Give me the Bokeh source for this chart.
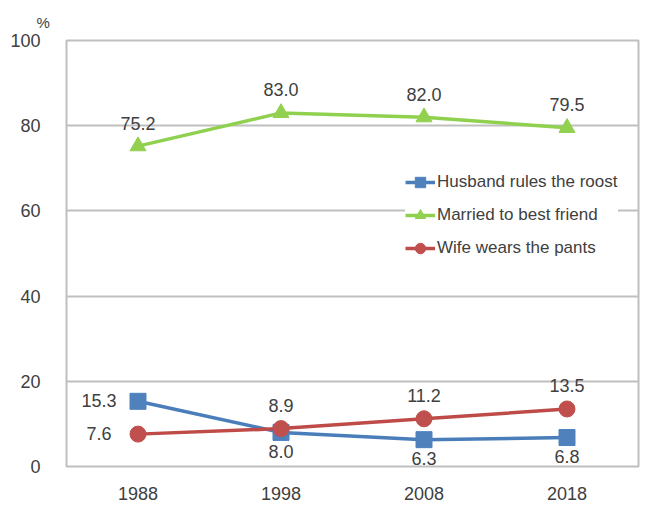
from bokeh.plotting import figure
from bokeh.models import (ColumnDataSource, Range1d, FactorRange, Legend, LegendItem,
                          FixedTicker)
from bokeh.embed import file_html
from bokeh.resources import INLINE
from bokeh.core.properties import value

years = ["1988", "1998", "2008", "2018"]
husband = [15.3, 8.0, 6.3, 6.8]
married = [75.2, 83.0, 82.0, 79.5]
wife = [7.6, 8.9, 11.2, 13.5]
names = ["Husband rules the roost", "Married to best friend", "Wife wears the pants"]
y_ticks = [0, 20, 40, 60, 80, 100]

FONT = "Liberation Sans"
TXT = "#404040"
GRID = "#bfbfbf"

W, H = 645, 502
p = figure(width=W, height=H, x_range=FactorRange(*years), y_range=Range1d(0, 100),
           output_backend="svg", toolbar_location=None,
           min_border_left=66, min_border_right=W - 638, min_border_top=40,
           min_border_bottom=H - 472)

p.title.text = "%"
p.title.align = "left"
p.title.offset = -30
p.title.text_font = FONT
p.title.text_font_size = "15px"
p.title.text_font_style = "normal"
p.title.text_color = TXT
p.title.standoff = 20

p.outline_line_color = GRID
p.outline_line_width = 2
p.xgrid.grid_line_color = None
p.ygrid.grid_line_color = GRID
p.ygrid.grid_line_width = 2
p.yaxis.ticker = FixedTicker(ticks=y_ticks)
for ax in (p.xaxis[0], p.yaxis[0]):
    ax.axis_line_color = None
    ax.major_tick_line_color = None
    ax.minor_tick_line_color = None
    ax.major_label_text_font = FONT
    ax.major_label_text_font_size = "18px"
    ax.major_label_text_color = TXT
p.xaxis.major_label_standoff = 14
p.yaxis.major_label_standoff = 20

series = [
    (husband, "#4a7ebb", "#4f81bd", "square", 16, ["left", "below", "below", "below"]),
    (married, "#8fd14f", "#92d050", "triangle", 16, ["above", "above", "above", "above"]),
    (wife, "#be4b48", "#c0504d", "circle", 16, ["left", "above", "above", "above"]),
]

items = []
for (vals, lc, mc, marker, size, places), name in zip(series, names):
    src = ColumnDataSource(dict(x=years, y=vals, lab=[f"{v:.1f}" for v in vals]))
    r1 = p.line("x", "y", source=src, line_color=lc, line_width=3.5)
    r2 = p.scatter("x", "y", source=src, marker=marker, size=size, fill_color=mc, line_color=mc)
    items.append(LegendItem(label=name, renderers=[r1, r2]))
    xo, yo = [], []
    for pl in places:
        if pl == "left":
            xo.append(-39); yo.append(-1)
        elif pl == "below":
            xo.append(0); yo.append(19)
        else:
            xo.append(0); yo.append(-23)
    src.data["xo"] = xo
    src.data["yo"] = yo
    p.text("x", "y", text="lab", source=src, x_offset="xo", y_offset="yo",
           text_align="center", text_baseline="middle", text_font=value(FONT),
           text_font_size="18px", text_color=TXT)

legend = Legend(items=items, location=(339, 205), background_fill_color="white",
                background_fill_alpha=1.0, border_line_color=None,
                label_text_font=FONT, label_text_font_size="17px", label_text_color=TXT,
                glyph_width=30, glyph_height=26, label_height=20, label_standoff=2,
                spacing=7, padding=10, margin=0)
p.add_layout(legend, "center")

open("out.html", "w").write(file_html(p, INLINE))
